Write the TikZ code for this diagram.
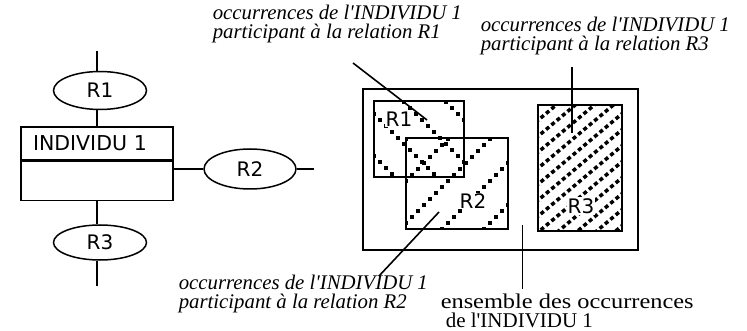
\documentclass[tikz,border=0pt]{standalone}
\usepackage{fontspec}
\setmainfont{Liberation Serif}
\newfontfamily\geneva{DejaVu Sans}
\newfontfamily\widerm{Liberation Serif}[FakeStretch=1.16]
\usetikzlibrary{shapes.geometric, positioning}

\begin{document}
\begin{tikzpicture}[
    x=1pt, y=-1pt,
    line width=1.5pt,
    entbox/.style={rectangle, draw, text width=128pt, inner xsep=12pt, inner ysep=0pt, align=left, font=\geneva\fontsize{20.5}{22}\selectfont},
    rel/.style={ellipse, draw, minimum width=93pt, minimum height=38pt, inner sep=0pt, font=\geneva\fontsize{20}{22}\selectfont},
    zone/.style={rectangle, draw, line width=1.3pt, inner sep=0pt},
    tag/.style={fill=white, inner sep=1pt, font=\geneva\fontsize{20}{22}\selectfont},
    note/.style={align=left, inner sep=0pt, anchor=west, font=\itshape\fontsize{20.8}{19.5}\selectfont},
    pointer/.style={line width=1.6pt},
    dotline/.style={dash pattern=on 4pt off 3pt, line width=3.5pt},
]
\useasboundingbox (0,0) rectangle (747,331);

% Entity and its relations
\node[entbox, minimum height=33pt] (ind) at (97,143.5) {INDIVIDU 1};
\node[entbox, minimum height=39pt, below=0pt of ind] (indbody) {};
\node[rel, above=16pt of ind, xshift=3pt] (r1) {R1};
\node[rel, minimum height=35pt, below=23pt of indbody, xshift=3pt] (r3) {R3};
\node[rel, minimum width=92pt, minimum height=40pt] (r2) at (250,169) {R2};

\draw (ind.north) -- (ind.north |- r1.south);
\draw (ind.north |- r1.north) -- ++(0,-20);
\draw (indbody.south) -- (indbody.south |- r3.north);
\draw (indbody.south |- r3.south) -- ++(0,25);
\draw (indbody.east |- r2.west) -- (r2.west);
\draw (r2.east) -- ++(17,0);

% Occurrence sets
\node[zone, minimum width=275pt, minimum height=161pt] (all) at (500.5,169.5) {};
\node[zone, minimum width=90pt, minimum height=76pt] (z1) at (419,139) {};
\node[zone, minimum width=102pt, minimum height=91pt] (z2) at (457,183.5) {};
\node[zone, minimum width=84pt, minimum height=126pt] (z3) at (580,168) {};

% Hatching
\begin{scope}
\clip (z1.south west) rectangle (z1.north east);
\foreach \c in {218,260,302,344}
  \foreach \t in {368,374,...,470}
    \fill (\t-2.3,\t-\c-2.3) rectangle ++(4.6,4.6);
\end{scope}
\begin{scope}
\clip (z2.south west) rectangle (z2.north east);
\foreach \c in {545,587,629,671,713}
  \foreach \t in {400,406,...,514}
    \fill (\t-2.3,\c-\t-2.3) rectangle ++(4.6,4.6);
\end{scope}
\begin{scope}
\clip (z3.south west) rectangle (z3.north east);
\foreach \c in {540,556,...,770}
  \draw[dotline] (530,\c-445) -- (630,\c-529);
\end{scope}

\node[tag] (t1) at (399,119) {R1};
\node[tag] (t2) at (473,201) {R2};
\node[tag] (t3) at (581,206) {R3};

% Labels
\node[note] (n1) at (212,24) {occurrences de l\textquotesingle INDIVIDU 1\\participant à la relation R1};
\node[note] (n3) at (480,36) {occurrences de l\textquotesingle INDIVIDU 1\\participant à la relation R3};
\node[note] (n2) at (178,294) {occurrences de l\textquotesingle INDIVIDU 1\\participant à la relation R2};
\node[note, font=\fontsize{21}{19.5}\selectfont] (n4) at (440,311) {{\widerm ensemble des occurrences}\\\hspace*{5pt}de l\textquotesingle INDIVIDU 1};

% Pointers
\coordinate (p1) at (353,63);
\coordinate (q1) at (427,120);
\coordinate (p3) at (572,67);
\coordinate (q3) at (572,133);
\coordinate (p2) at (439,212);
\coordinate (q2) at (379,276);
\coordinate (p4) at (522.5,225);
\coordinate (q4) at (522.5,289);
\draw[pointer] (p1) -- (q1);
\draw[pointer] (p3) -- (q3);
\draw[pointer] (p2) -- (q2);
\draw[pointer] (p4) -- (q4);

\end{tikzpicture}
\end{document}
